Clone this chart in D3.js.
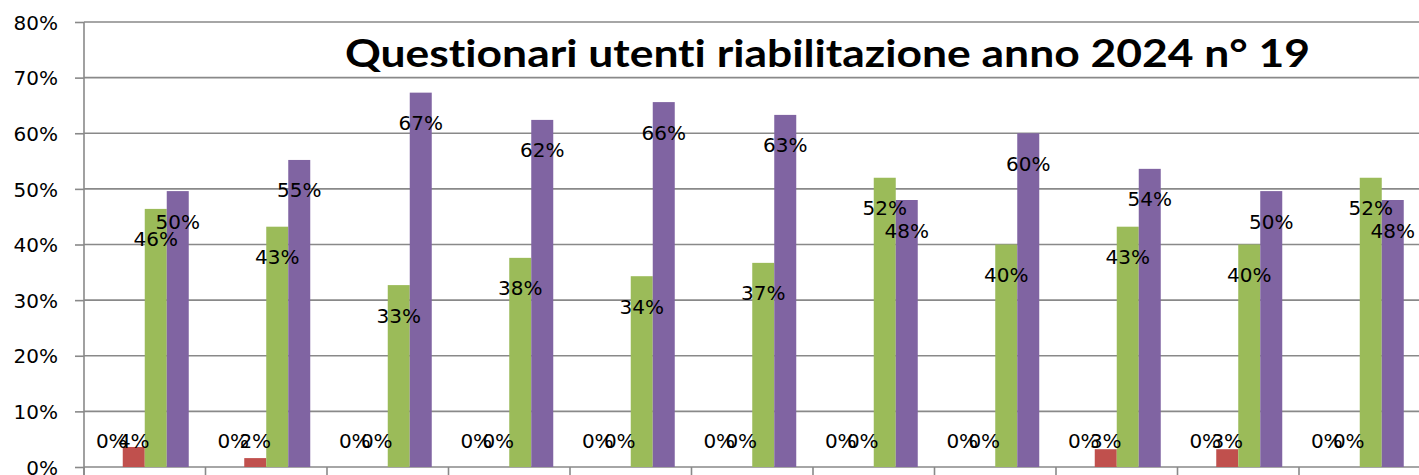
<!DOCTYPE html>
<html>
<head>
<meta charset="utf-8">
<script src="https://cdn.jsdelivr.net/npm/d3@7"></script>
<style>
  html, body { margin: 0; padding: 0; background: #fff; }
  svg { display: block; }
</style>
</head>
<body>
<div id="chart"></div>
<script>
// ============================================================
// Data (values in percent)
// ============================================================

const categories = ["1", "2", "3", "4", "5", "6", "7", "8", "9", "10", "11"];
const seriesNames = ["Serie1", "Serie2", "Serie3", "Serie4"];

const serie1 = [0, 0, 0, 0, 0, 0, 0, 0, 0, 0, 0];
const serie2 = [3.6, 1.6, 0, 0, 0, 0, 0, 0, 3.2, 3.2, 0];
const serie3 = [46.4, 43.2, 32.7, 37.6, 34.3, 36.7, 52.0, 40.0, 43.2, 40.0, 52.0];
const serie4 = [49.6, 55.2, 67.3, 62.4, 65.6, 63.3, 48.0, 60.0, 53.6, 49.6, 48.0];

const yTicks = [0, 10, 20, 30, 40, 50, 60, 70, 80];
const title = "Questionari utenti riabilitazione anno 2024 n° 19";

// ============================================================
// Colors
// ============================================================

const COLORS = {
  Serie1: "#4F81BD",
  Serie2: "#C0504D",
  Serie3: "#9BBB59",
  Serie4: "#8064A2",
  grid:   "#898989",
  text:   "#000000",
};

// ============================================================
// Layout
// ============================================================

const W = 1419;
const H = 475;
const plot = { left: 84, top: 22, bottom: 467, step: 121.5 };
plot.right = plot.left + plot.step * categories.length;

const svg = d3.select("#chart")
  .append("svg")
  .attr("width", W)
  .attr("height", H)
  .attr("viewBox", `0 0 ${W} ${H}`);

const x = d3.scaleBand()
  .domain(categories)
  .range([plot.left, plot.right])
  .padding(0);

const xInner = d3.scaleBand()
  .domain(seriesNames)
  .range([16.75, plot.step - 16.75])
  .padding(0);

const y = d3.scaleLinear()
  .domain([0, 80])
  .range([plot.bottom, plot.top]);

const rows = categories.map((c, i) => ({
  cat: c,
  values: [serie1[i], serie2[i], serie3[i], serie4[i]]
    .map((v, j) => ({ cat: c, key: seriesNames[j], value: v })),
}));

// --- gridlines ---
svg.append("g")
  .attr("class", "grid")
  .selectAll("line")
  .data(yTicks)
  .join("line")
  .attr("x1", plot.left)
  .attr("x2", plot.right)
  .attr("y1", (d) => y(d))
  .attr("y2", (d) => y(d))
  .attr("stroke", COLORS.grid)
  .attr("stroke-width", 1.6);

// --- y axis ---
const yAxis = svg.append("g")
  .attr("transform", `translate(${plot.left},0)`)
  .call(d3.axisLeft(y)
    .tickValues(yTicks)
    .tickSize(9)
    .tickPadding(17)
    .tickFormat((d) => d + "%"));

yAxis.select(".domain")
  .attr("d", `M0,${plot.top}V${H}`)
  .attr("stroke", COLORS.grid)
  .attr("stroke-width", 1.6);
yAxis.selectAll(".tick line")
  .attr("stroke", COLORS.grid)
  .attr("stroke-width", 1.6);
yAxis.selectAll(".tick text")
  .attr("font-family", "'DejaVu Sans', sans-serif")
  .attr("font-size", "20px")
  .attr("fill", COLORS.text)
  .attr("dy", "0.36em");

// --- x axis (category dividers, labels fall below the picture) ---
const xAxis = svg.append("g")
  .attr("transform", `translate(0,${plot.bottom})`)
  .call(d3.axisBottom(x).tickSize(0).tickFormat(""));
xAxis.select(".domain").remove();

xAxis.selectAll("line.divider")
  .data(d3.range(categories.length + 1))
  .join("line")
  .attr("class", "divider")
  .attr("x1", (i) => plot.left + i * x.step())
  .attr("x2", (i) => plot.left + i * x.step())
  .attr("y1", 0)
  .attr("y2", 12)
  .attr("stroke", COLORS.grid)
  .attr("stroke-width", 1.6);

// --- bars ---
const groups = svg.append("g")
  .attr("class", "bars")
  .selectAll("g")
  .data(rows)
  .join("g")
  .attr("transform", (d) => `translate(${x(d.cat)},0)`);

groups.selectAll("rect")
  .data((d) => d.values)
  .join("rect")
  .attr("x", (d) => xInner(d.key))
  .attr("width", xInner.bandwidth())
  .attr("y", (d) => y(d.value))
  .attr("height", (d) => y(0) - y(d.value))
  .attr("fill", (d) => COLORS[d.key]);

// --- data labels (inside end, kept above the baseline) ---
const labelG = svg.append("g").attr("class", "labels");
rows.forEach((r) => {
  labelG.selectAll(null)
    .data(r.values)
    .join("text")
    .attr("x", (d) => x(d.cat) + xInner(d.key) + xInner.bandwidth() / 2)
    .attr("y", (d) => Math.min(y(d.value) + 37.5, y(0) - 19.5))
    .attr("text-anchor", "middle")
    .attr("font-family", "'DejaVu Sans', sans-serif")
    .attr("font-size", "20px")
    .attr("fill", COLORS.text)
    .text((d) => d3.format(".0f")(d.value) + "%");
});

// --- title ---
svg.append("text")
  .attr("x", 345)
  .attr("y", 67)
  .attr("font-family", "Lato, 'Open Sans', sans-serif")
  .attr("font-weight", "700")
  .attr("font-size", "38.5px")
  .attr("fill", COLORS.text)
  .attr("textLength", 965)
  .attr("lengthAdjust", "spacingAndGlyphs")
  .style("font-variant-ligatures", "none")
  .text(title);
</script>
</body>
</html>
